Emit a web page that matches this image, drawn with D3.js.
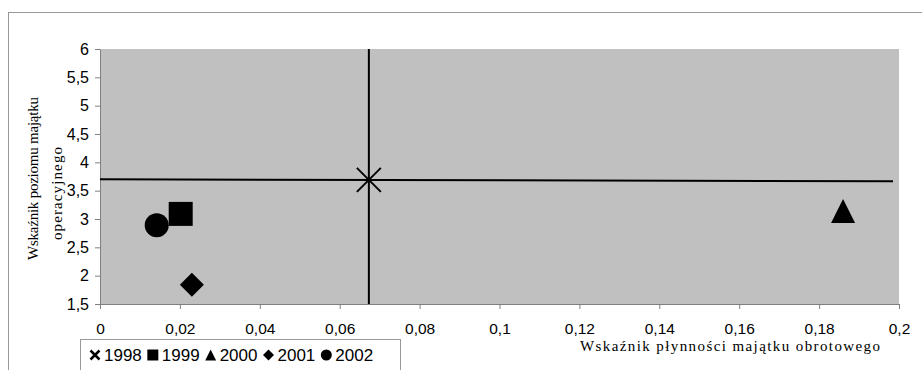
<!DOCTYPE html>
<html>
<head>
<meta charset="utf-8">
<script src="https://cdn.jsdelivr.net/npm/d3@7"></script>
<style>
  body { margin: 0; background: #fff; }
  .axis path, .axis line { stroke: #808080; }
  .axis text { font-family: "Liberation Sans", Arial, sans-serif; font-size: 16px; fill: #000; }
  .x.axis text { font-size: 15.5px; }
  .title { font-family: "Liberation Serif", "Times New Roman", serif; font-size: 15px; fill: #000; }
  .legend text { font-family: "Liberation Sans", Arial, sans-serif; font-size: 17px; fill: #000; }
</style>
</head>
<body>
<div id="chart"></div>
<script>
// values
var years = ["1998", "1999", "2000", "2001", "2002"];
var xValues = [0.0673, 0.0202, 0.186, 0.023, 0.0142];
var yValues = [3.69, 3.09, 3.14, 1.84, 2.89];
var markers = ["x", "square", "triangle", "diamond", "circle"];

var xTicks = [0, 0.02, 0.04, 0.06, 0.08, 0.1, 0.12, 0.14, 0.16, 0.18, 0.2];
var yTicks = [1.5, 2, 2.5, 3, 3.5, 4, 4.5, 5, 5.5, 6];

// crosshair through the 1998 point
var vLine = [[0.0673, 1.5], [0.0673, 6]];
var hLine = [[0, 3.7], [0.1985, 3.665]];

var xTitle = "Wskaźnik płynności majątku obrotowego";
var yTitle = ["Wskaźnik poziomu majątku", "operacyjnego"];

var width = 922, height = 370;
var margin = {top: 49, right: 23, bottom: 66, left: 100};

var data = years.map(function(d, i) {
    return {year: d, x: xValues[i], y: yValues[i], m: markers[i]};
});

var pl = d3.formatLocale({decimal: ",", thousands: " ", grouping: [3], currency: ["", ""]});
var fmt = pl.format("~g");

var svg = d3.select("#chart").append("svg")
    .attr("width", width)
    .attr("height", height);

// outer chart frame (only left and top edges are in view)
svg.append("rect")
    .attr("x", 8.5).attr("y", 12.5)
    .attr("width", 940).attr("height", 400)
    .attr("fill", "none").attr("stroke", "#999");

var x = d3.scaleLinear().domain([0, 0.2]).range([margin.left, width - margin.right]);
var y = d3.scaleLinear().domain([1.5, 6]).range([height - margin.bottom, margin.top]);

svg.append("rect")
    .attr("x", x(0)).attr("y", y(6))
    .attr("width", x(0.2) - x(0)).attr("height", y(1.5) - y(6))
    .attr("fill", "#c0c0c0");

svg.append("g")
    .attr("class", "x axis")
    .attr("transform", "translate(0," + y(1.5) + ")")
    .call(d3.axisBottom(x).tickValues(xTicks).tickFormat(fmt).tickSizeInner(5).tickSizeOuter(0).tickPadding(14));

svg.append("g")
    .attr("class", "y axis")
    .attr("transform", "translate(" + x(0) + ",0)")
    .call(d3.axisLeft(y).tickValues(yTicks).tickFormat(fmt).tickSizeInner(5).tickSizeOuter(0).tickPadding(6));

var line = d3.line().x(function(d) { return x(d[0]); }).y(function(d) { return y(d[1]); });
svg.append("path").attr("d", line(vLine)).attr("stroke", "#000").attr("stroke-width", 2).attr("fill", "none");
svg.append("path").attr("d", line(hLine)).attr("stroke", "#000").attr("stroke-width", 2).attr("fill", "none");

function markerPath(m, s) {
    var r = s / 2;
    if (m == "square") return "M" + -r + "," + -r + "h" + s + "v" + s + "h" + -s + "Z";
    if (m == "triangle") return "M0," + -r + "L" + r + "," + r + "L" + -r + "," + r + "Z";
    if (m == "diamond") return "M0," + -r + "L" + r + ",0L0," + r + "L" + -r + ",0Z";
    if (m == "circle") return "M" + r + ",0A" + r + "," + r + " 0 1,1 " + -r + ",0A" + r + "," + r + " 0 1,1 " + r + ",0Z";
    return "M" + -r + "," + -r + "L" + r + "," + r + "M" + -r + "," + r + "L" + r + "," + -r;
}

svg.selectAll(".pt")
    .data(data)
  .enter().append("path")
    .attr("class", "pt")
    .attr("transform", function(d) { return "translate(" + x(d.x) + "," + y(d.y) + ")"; })
    .attr("d", function(d) { return markerPath(d.m, 24); })
    .attr("fill", function(d) { return d.m == "x" ? "none" : "#000"; })
    .attr("stroke", "#000")
    .attr("stroke-width", function(d) { return d.m == "x" ? 2 : 0; });

// axis titles
svg.append("text")
    .attr("class", "title")
    .attr("x", 580).attr("y", 351)
    .attr("textLength", 300)
    .attr("lengthAdjust", "spacing")
    .text(xTitle);

svg.append("text")
    .attr("class", "title")
    .attr("transform", "translate(38,260) rotate(-90)")
    .attr("textLength", 163)
    .attr("lengthAdjust", "spacing")
    .text(yTitle[0]);

svg.append("text")
    .attr("class", "title")
    .attr("transform", "translate(62,240) rotate(-90)")
    .attr("textLength", 93)
    .attr("lengthAdjust", "spacing")
    .text(yTitle[1]);

// legend
var legend = svg.append("g").attr("class", "legend");
legend.append("rect")
    .attr("x", 80.5).attr("y", 339.5)
    .attr("width", 320).attr("height", 40)
    .attr("fill", "#fff").attr("stroke", "#999");

var lx = 90;
data.forEach(function(d) {
    legend.append("path")
        .attr("transform", "translate(" + (lx + 5) + ",355)")
        .attr("d", markerPath(d.m, d.m == "x" ? 9 : 11))
        .attr("fill", d.m == "x" ? "none" : "#000")
        .attr("stroke", "#000")
        .attr("stroke-width", d.m == "x" ? 2.5 : 0);
    var t = legend.append("text")
        .attr("x", lx + 14).attr("y", 361)
        .text(d.year);
    lx += 14 + t.node().getComputedTextLength() + 6;
});
</script>
</body>
</html>
